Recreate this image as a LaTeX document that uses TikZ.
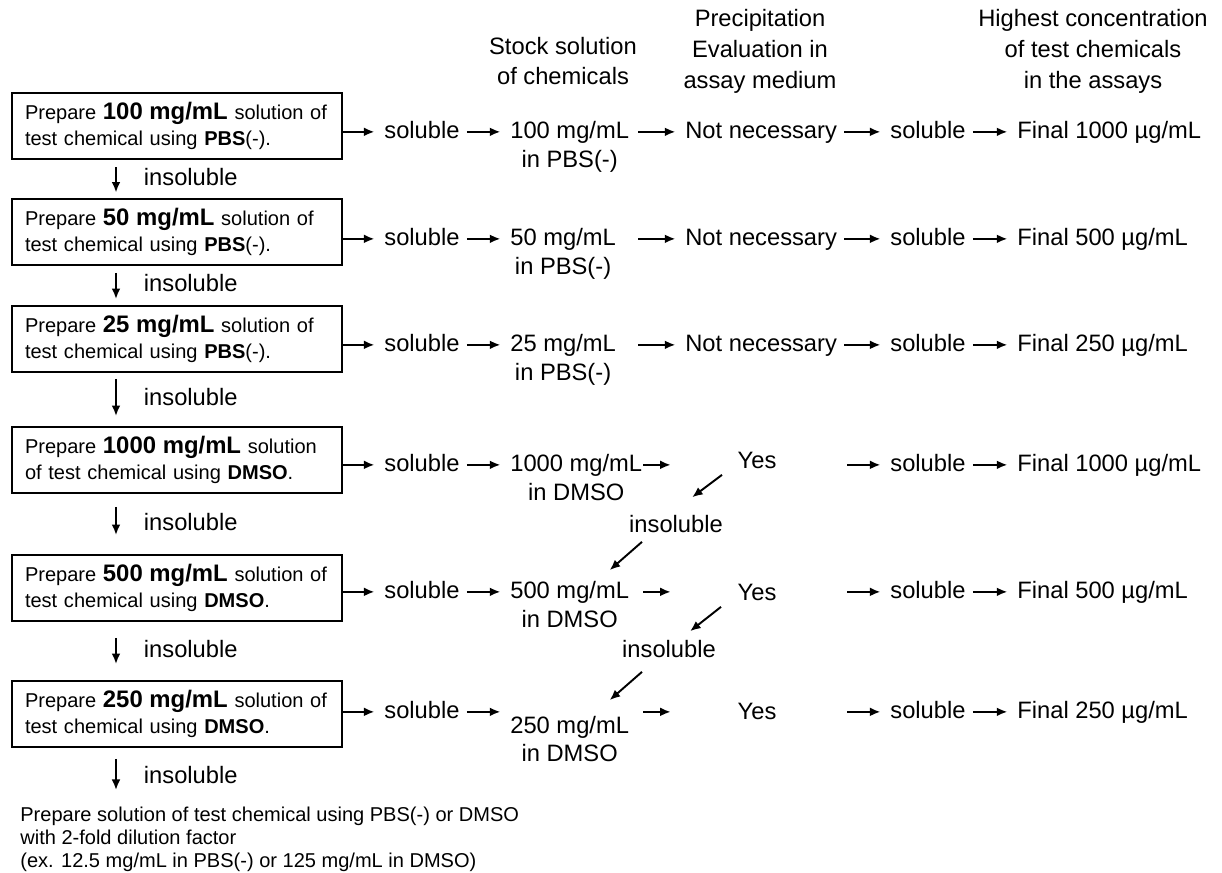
\documentclass[tikz,border=0pt]{standalone}
\usepackage{fontspec}
\setmainfont{Liberation Sans}
\usepackage{tikz}
\usetikzlibrary{arrows.meta}
\tikzset{>={Latex[length=6pt,width=5pt]}}
\newcommand{\rowfont}{\fontsize{13.5pt}{16.5pt}\selectfont}
\newcommand{\hdrfont}{\fontsize{13.5pt}{17.6pt}\selectfont}
\newcommand{\boxfont}{\fontsize{11.4pt}{14.8pt}\selectfont}
\newcommand{\notefont}{\fontsize{11.4pt}{13.1pt}\selectfont}
\newcommand{\bigbold}[1]{{\fontsize{13.6pt}{14.8pt}\selectfont\bfseries #1}}

\begin{document}
\begin{tikzpicture}[x=0.02cm, y=-0.02cm,
    stepbox/.style={draw, line width=1.1pt, inner xsep=0.26cm, inner ysep=0pt,
      minimum height=1.32cm, text width=6.08cm, align=left, font=\boxfont},
    lbl/.style={inner sep=0.14cm, text height=9.7pt, text depth=2.7pt, font=\rowfont, anchor=base},
    hdr/.style={font=\hdrfont, align=center, inner sep=0pt},
    arr/.style={->, line width=1.1pt, shorten >=1.5pt},
    dnarr/.style={->, line width=1.1pt}]
  \useasboundingbox (0,0) rectangle (1222,872);

  % column heads
  \node[hdr] (hdStock) at (563,61) {Stock solution\\of chemicals};
  \node[hdr] (hdPrec) at (760,51) {Precipitation\\Evaluation in\\assay medium};
  \node[hdr] (hdHigh) at (1093,51) {Highest concentration\\of test chemicals\\in the assays};

  % preparation steps
  \node[stepbox] (box1) at (177,126) {Prepare \bigbold{100 mg/mL} solution of\\test chemical using \textbf{PBS}(-).};
  \node[stepbox] (box2) at (177,232) {Prepare \bigbold{50 mg/mL} solution of\\test chemical using \textbf{PBS}(-).};
  \node[stepbox] (box3) at (177,339) {Prepare \bigbold{25 mg/mL} solution of\\test chemical using \textbf{PBS}(-).};
  \node[stepbox] (box4) at (177,460) {Prepare \bigbold{1000 mg/mL} solution\\of test chemical using \textbf{DMSO}.};
  \node[stepbox] (box5) at (177,588) {Prepare \bigbold{500 mg/mL} solution of\\test chemical using \textbf{DMSO}.};
  \node[stepbox] (box6) at (177,714) {Prepare \bigbold{250 mg/mL} solution of\\test chemical using \textbf{DMSO}.};
  \node[font=\notefont, align=left, inner sep=0pt, anchor=north west] (note) at (20,807)
    {Prepare solution of test chemical using PBS(-) or DMSO\\with 2-fold dilution factor\\(ex. 12.5 mg/mL in PBS(-) or 125 mg/mL in DMSO)};

  % insoluble -> next step
  \coordinate (dx) at (116,0);
  \draw[dnarr, shorten <=0.15cm, shorten >=0.11cm] (box1.south -| dx) -- node[lbl, anchor=west, xshift=0.4cm] (insL1) {insoluble} (box2.north -| dx);
  \draw[dnarr, shorten <=0.14cm, shorten >=0.12cm] (box2.south -| dx) -- node[lbl, anchor=west, xshift=0.4cm] (insL2) {insoluble} (box3.north -| dx);
  \draw[dnarr, shorten <=0.12cm, shorten >=0.2cm] (box3.south -| dx) -- node[lbl, anchor=west, xshift=0.4cm] (insL3) {insoluble} (box4.north -| dx);
  \draw[dnarr, shorten <=0.26cm, shorten >=0.38cm] (box4.south -| dx) -- node[lbl, anchor=west, xshift=0.4cm] (insL4) {insoluble} (box5.north -| dx);
  \draw[dnarr, shorten <=0.32cm, shorten >=0.32cm] (box5.south -| dx) -- node[lbl, anchor=west, xshift=0.4cm] (insL5) {insoluble} (box6.north -| dx);
  \draw[dnarr, shorten <=0.22cm, shorten >=0.34cm] (box6.south -| dx) -- node[lbl, anchor=west, xshift=0.4cm] (insL6) {insoluble} (note.north -| dx);

  % row 1
  \node[lbl] (sA1) at (422,138) {soluble};
  \node[lbl, anchor=base west] (stk1) at (503,138) {100 mg/mL};
  \node[lbl] (stk1b) at ([shift={(0,29)}]stk1.base) {in PBS(-)};
  \node[lbl, anchor=base west] (nec1) at (678,138) {Not necessary};
  \node[lbl] (sB1) at (928,138) {soluble};
  \node[lbl, anchor=base west] (fin1) at (1010,138) {Final 1000 µg/mL};
  \draw[arr] (box1.east |- sA1.west) -- (sA1.west);
  \draw[arr] (sA1.east) -- (stk1.west);
  \draw[arr] ([shift={(-40,0)}]nec1.west) -- (nec1.west);
  \draw[arr] (nec1.east) -- (sB1.west);
  \draw[arr] (sB1.east) -- (fin1.west);

  % row 2
  \node[lbl] (sA2) at (422,245) {soluble};
  \node[lbl, anchor=base west] (stk2) at (503,245) {50 mg/mL};
  \node[lbl] (stk2b) at ([shift={(0,29)}]stk2.base) {in PBS(-)};
  \node[lbl, anchor=base west] (nec2) at (678,245) {Not necessary};
  \node[lbl] (sB2) at (928,245) {soluble};
  \node[lbl, anchor=base west] (fin2) at (1010,245) {Final 500 µg/mL};
  \draw[arr] (box2.east |- sA2.west) -- (sA2.west);
  \draw[arr] (sA2.east) -- (stk2.west);
  \draw[arr] ([shift={(-40,0)}]nec2.west) -- (nec2.west);
  \draw[arr] (nec2.east) -- (sB2.west);
  \draw[arr] (sB2.east) -- (fin2.west);

  % row 3
  \node[lbl] (sA3) at (422,351) {soluble};
  \node[lbl, anchor=base west] (stk3) at (503,351) {25 mg/mL};
  \node[lbl] (stk3b) at ([shift={(0,29)}]stk3.base) {in PBS(-)};
  \node[lbl, anchor=base west] (nec3) at (678,351) {Not necessary};
  \node[lbl] (sB3) at (928,351) {soluble};
  \node[lbl, anchor=base west] (fin3) at (1010,351) {Final 250 µg/mL};
  \draw[arr] (box3.east |- sA3.west) -- (sA3.west);
  \draw[arr] (sA3.east) -- (stk3.west);
  \draw[arr] ([shift={(-40,0)}]nec3.west) -- (nec3.west);
  \draw[arr] (nec3.east) -- (sB3.west);
  \draw[arr] (sB3.east) -- (fin3.west);

  % row 4
  \node[lbl] (sA4) at (422,471) {soluble};
  \node[lbl, anchor=base west] (stk4) at (503,471) {1000 mg/mL};
  \node[lbl] (stk4b) at ([shift={(0,29)}]stk4.base) {in DMSO};
  \node[lbl] (yes4) at (757,468) {Yes};
  \node[lbl] (sB4) at (928,471) {soluble};
  \node[lbl, anchor=base west] (fin4) at (1010,471) {Final 1000 µg/mL};
  \draw[arr] (box4.east |- sA4.west) -- (sA4.west);
  \draw[arr] (sA4.east) -- (stk4.west);
  \draw[arr] ([shift={(-87,0)}]yes4.west |- sA4) -- ([shift={(-57,0)}]yes4.west |- sA4);
  \draw[arr] ([shift={(-36,0)}]sB4.west) -- (sB4.west);
  \draw[arr] (sB4.east) -- (fin4.west);

  % row 5
  \node[lbl] (insM4) at (676,532) {insoluble};
  \node[lbl] (sA5) at (422,598) {soluble};
  \node[lbl, anchor=base west] (stk5) at (503,598) {500 mg/mL};
  \node[lbl] (stk5b) at ([shift={(0,29)}]stk5.base) {in DMSO};
  \node[lbl] (yes5) at (757,600) {Yes};
  \node[lbl] (sB5) at (928,598) {soluble};
  \node[lbl, anchor=base west] (fin5) at (1010,598) {Final 500 µg/mL};
  \draw[arr] (box5.east |- sA5.west) -- (sA5.west);
  \draw[arr] (sA5.east) -- (stk5.west);
  \draw[arr] ([shift={(-87,0)}]yes5.west |- sA5) -- ([shift={(-57,0)}]yes5.west |- sA5);
  \draw[arr] ([shift={(-36,0)}]sB5.west) -- (sB5.west);
  \draw[arr] (sB5.east) -- (fin5.west);
  \draw[arr] ([shift={(-35,13)}]yes4.center) -- ([shift={(14,-27)}]insM4.center);
  \draw[arr] ([shift={(-34,16)}]insM4.center) -- ([shift={(38,-20)}]stk5.center);

  % row 6
  \node[lbl] (insM5) at (669,657) {insoluble};
  \node[lbl] (sA6) at (422,718) {soluble};
  \node[lbl, anchor=base west] (stk6) at (503,733) {250 mg/mL};
  \node[lbl] (stk6b) at ([shift={(0,28)}]stk6.base) {in DMSO};
  \node[lbl] (yes6) at (757,719) {Yes};
  \node[lbl] (sB6) at (928,718) {soluble};
  \node[lbl, anchor=base west] (fin6) at (1010,718) {Final 250 µg/mL};
  \draw[arr] (box6.east |- sA6.west) -- (sA6.west);
  \draw[arr] (sA6.east) -- (sA6.east -| stk6.west);
  \draw[arr] ([shift={(-87,0)}]yes6.west |- sA6) -- ([shift={(-57,0)}]yes6.west |- sA6);
  \draw[arr] ([shift={(-36,0)}]sB6.west) -- (sB6.west);
  \draw[arr] (sB6.east) -- (fin6.west);
  \draw[arr] ([shift={(-36,13)}]yes5.center) -- ([shift={(19,-18)}]insM5.center);
  \draw[arr] ([shift={(-27,21)}]insM5.center) -- ([shift={(38,-25)}]stk6.center);
\end{tikzpicture}
\end{document}
